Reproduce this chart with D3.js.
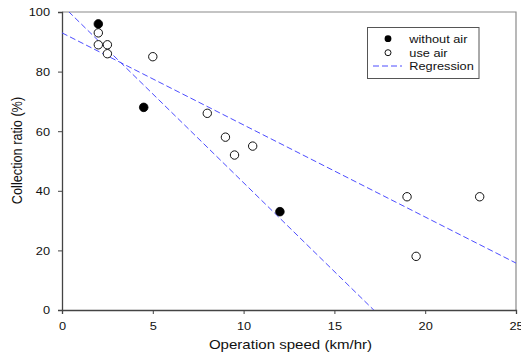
<!DOCTYPE html>
<html>
<head>
<meta charset="utf-8">
<script src="https://cdn.jsdelivr.net/npm/d3@7"></script>
<style>
  html, body { margin: 0; padding: 0; background: #fff; }
  svg { display: block; font-family: "Liberation Sans", Arial, sans-serif; }
</style>
</head>
<body>
<svg id="chart" width="521" height="357"></svg>
<script>
// ---- data ----
const withoutAirX = [2, 4.5, 12];
const withoutAirY = [96, 68, 33];
const useAirX = [2, 2, 2.5, 2.5, 5, 8, 9, 9.5, 10.5, 19, 23, 19.5];
const useAirY = [93, 89, 89, 86, 85, 66, 58, 52, 55, 38, 38, 18];
const regressionIntercepts = [102.3, 93.0];
const regressionSlopes = [-5.96, -3.09];
const xTicks = [0, 5, 10, 15, 20, 25];
const yTicks = [0, 20, 40, 60, 80, 100];
const legendLabels = ["without air", "use air", "Regression"];

// ---- layout ----
const svg = d3.select("#chart");
const pLeft = 62, pRight = 516, pTop = 12, pBottom = 310;
const sx = 1.16; // horizontal stretch of the text glyphs
const x = d3.scaleLinear().domain([0, 25]).range([pLeft, pRight]);
const y = d3.scaleLinear().domain([0, 100]).range([pBottom, pTop]);
const lineColor = "#4d4dff";
const textColor = "#111";

svg.append("defs").append("clipPath").attr("id", "plotclip")
  .append("rect").attr("x", pLeft).attr("y", pTop)
  .attr("width", pRight - pLeft).attr("height", pBottom - pTop);

// frame (top & right)
svg.append("path")
  .attr("d", `M${pLeft},${pTop}H${pRight}V${pBottom}`)
  .attr("fill", "none").attr("stroke", "#8a8a8a").attr("stroke-width", 1.2);

// axes
const xAxis = svg.append("g").attr("transform", `translate(0,${pBottom})`)
  .call(d3.axisBottom(x).tickValues(xTicks).tickSize(4));
const yAxis = svg.append("g").attr("transform", `translate(${pLeft},0)`)
  .call(d3.axisLeft(y).tickValues(yTicks).tickSize(4));
[xAxis, yAxis].forEach(g => {
  g.select(".domain").attr("stroke", "#444").attr("stroke-width", 1.3);
  g.selectAll(".tick line").attr("stroke", "#444");
  g.selectAll(".tick text").attr("font-size", 11).attr("fill", textColor)
    .attr("font-family", "Liberation Sans, Arial, sans-serif");
});
xAxis.selectAll(".tick text").attr("dy", null).attr("x", 0).attr("y", 20.5)
  .attr("transform", `scale(${sx},1)`);
yAxis.selectAll(".tick text").attr("dy", "0.36em").attr("x", -12 / sx)
  .attr("transform", `scale(${sx},1)`);

// regression lines
const regData = regressionIntercepts.map((b, i) => [[0, b], [25, b + regressionSlopes[i] * 25]]);
const line = d3.line().x(d => x(d[0])).y(d => y(d[1]));
svg.append("g").attr("clip-path", "url(#plotclip)")
  .selectAll("path").data(regData).join("path")
  .attr("d", line).attr("fill", "none")
  .attr("stroke", lineColor).attr("stroke-width", 1)
  .attr("stroke-dasharray", "6,3");

// points
const useAir = useAirX.map((v, i) => [v, useAirY[i]]);
const withoutAir = withoutAirX.map((v, i) => [v, withoutAirY[i]]);
svg.append("g").selectAll("circle").data(useAir).join("circle")
  .attr("cx", d => x(d[0])).attr("cy", d => y(d[1])).attr("r", 4.2)
  .attr("fill", "#fff").attr("stroke", "#111").attr("stroke-width", 1);
svg.append("g").selectAll("circle").data(withoutAir).join("circle")
  .attr("cx", d => x(d[0])).attr("cy", d => y(d[1])).attr("r", 4.3)
  .attr("fill", "#000").attr("stroke", "#000").attr("stroke-width", 0.8);

// axis titles
svg.append("text")
  .attr("transform", `translate(290.5,349) scale(${sx},1)`)
  .attr("text-anchor", "middle").attr("font-size", 13).attr("fill", textColor)
  .text("Operation speed (km/hr)");
svg.append("text")
  .attr("transform", `translate(22,150.5) rotate(-90) scale(1,${sx})`)
  .attr("text-anchor", "middle").attr("font-size", 12.7).attr("fill", textColor)
  .text("Collection ratio (%)");

// legend
const lg = svg.append("g");
lg.append("rect").attr("x", 367.5).attr("y", 27.5).attr("width", 111.5).attr("height", 51)
  .attr("fill", "#fff").attr("stroke", "#555").attr("stroke-width", 1);
const rowY = [42.7, 56.5, 70.2];
lg.append("circle").attr("cx", 388).attr("cy", 38.7).attr("r", 3.4).attr("fill", "#000");
lg.append("circle").attr("cx", 388).attr("cy", 52.7).attr("r", 3)
  .attr("fill", "#fff").attr("stroke", "#111").attr("stroke-width", 1);
lg.append("line").attr("x1", 373).attr("x2", 402).attr("y1", 66).attr("y2", 66)
  .attr("stroke", lineColor).attr("stroke-width", 1).attr("stroke-dasharray", "6,3");
lg.selectAll("text.lab").data(legendLabels).join("text").attr("class", "lab")
  .attr("transform", (d, i) => `translate(409.3,${rowY[i]}) scale(${sx},1)`)
  .attr("font-size", 11).attr("fill", textColor).text(d => d);
</script>
</body>
</html>
